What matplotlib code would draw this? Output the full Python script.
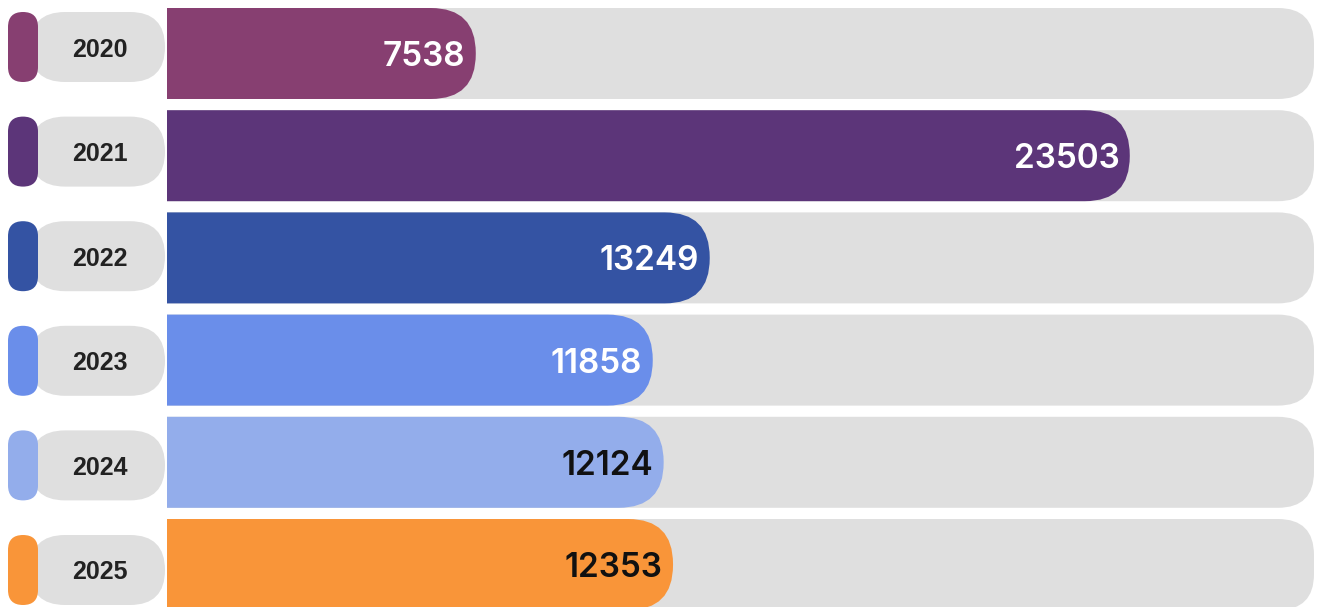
import matplotlib.pyplot as plt
from matplotlib.patches import FancyBboxPatch

years = ['2020', '2021', '2022', '2023', '2024', '2025']
values = [7538, 23503, 13249, 11858, 12124, 12353]
colors = ['#873F71', '#5C3579', '#3453A3', '#6A8EEA', '#93ADEB', '#F99539']
text_colors = ['white', 'white', 'white', 'white', '#111111', '#111111']
track_color = '#DFDFDF'

W, H = 1320, 607
xmax = 28000

fig = plt.figure(figsize=(W / 100, H / 100), dpi=100)


def pill(ax, x0, x1, yc, h, r_px, xpx, aspect, color):
    # rounded box, radius given in pixels
    r = r_px * xpx
    p = FancyBboxPatch((x0, yc - h / 2), x1 - x0, h,
                       boxstyle='round,pad=0,rounding_size={}'.format(r),
                       mutation_aspect=aspect, fc=color, ec='none')
    ax.add_patch(p)


# bars
bx0, bx1 = 167, 1314
top, pitch = 2.4, 102.2
n = len(years)
ax = fig.add_axes([bx0 / W, (H - top - n * pitch) / H, (bx1 - bx0) / W, n * pitch / H])
ax.set_xlim(0, xmax)
ax.set_ylim(n - 0.5, -0.5)
ax.axis('off')

xpx = xmax / (bx1 - bx0)
aspect = (1 / pitch) / xpx
bh = 91 / pitch

for i, v in enumerate(values):
    pill(ax, -60 * xpx, xmax, i, bh, 36, xpx, aspect, track_color)
    pill(ax, -60 * xpx, v, i, bh, 45, xpx, aspect, colors[i])
    ax.annotate(str(v), (v, i), xytext=(-7.5, 0), textcoords='offset points',
                ha='right', va='center_baseline', fontsize=24, fontfamily='Inter',
                fontweight='semibold', color=text_colors[i])

# year labels
ltop, lpitch = -5.3, 104.6
lax = fig.add_axes([0, (H - ltop - n * lpitch) / H, 167 / W, n * lpitch / H])
lax.set_xlim(0, 167)
lax.set_ylim(n - 0.5, -0.5)
lax.axis('off')
laspect = 1 / lpitch
lh = 70 / lpitch

for i, y in enumerate(years):
    pill(lax, 30, 165, i, lh, 35, 1, laspect, track_color)
    pill(lax, 8, 38, i, lh, 15, 1, laspect, colors[i])
    lax.text(100, i, y, ha='center', va='center_baseline', fontsize=18,
             fontfamily='Liberation Sans', fontweight='bold', color='#222222')

fig.savefig('out.png', dpi=100)
